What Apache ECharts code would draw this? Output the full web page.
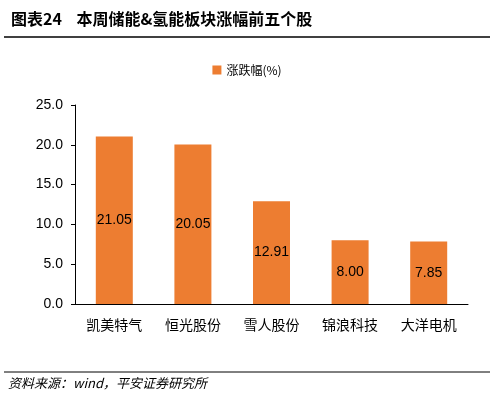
<!DOCTYPE html><html><head><meta charset="utf-8"><script src="https://cdn.jsdelivr.net/npm/echarts@6/dist/echarts.min.js"></script>
<style>body{margin:0;background:#fff}#c{width:494px;height:406px}</style></head><body><div id="c"></div><script>
const categories=['凯美特气','恒光股份','雪人股份','锦浪科技','大洋电机'];
const values=[21.05,20.05,12.91,8.00,7.85];
const yTicks=[0,5,10,15,20,25];
const font='"Noto Sans CJK SC", sans-serif';
const ch=echarts.init(document.getElementById('c'));
ch.setOption({
animation:false,
title:{text:'图表24    本周储能&氢能板块涨幅前五个股',left:6,top:6,textStyle:{fontSize:16,fontWeight:'bold',color:'#000',fontFamily:font}},
legend:{top:59,left:'center',itemWidth:9,itemHeight:9,icon:'rect',textStyle:{fontSize:12,color:'#000',fontFamily:font},data:['涨跌幅(%)']},
grid:{left:75,right:26,top:105,bottom:102},
graphic:[
{type:'line',shape:{x1:4,y1:37,x2:490,y2:37},style:{stroke:'#000',lineWidth:1.5}},
{type:'line',shape:{x1:4,y1:372,x2:490,y2:372},style:{stroke:'#000',lineWidth:1}},
{type:'text',left:8,top:377,style:{text:'资料来源：wind，平安证券研究所',fontSize:13,fontStyle:'italic',fill:'#000',fontFamily:font}}
],
xAxis:{type:'category',data:categories,axisTick:{show:false},axisLine:{lineStyle:{color:'#000'}},axisLabel:{fontSize:14,color:'#000',margin:14,fontFamily:font}},
yAxis:{type:'value',min:0,max:25,interval:5,splitLine:{show:false},axisLine:{show:true,lineStyle:{color:'#000'}},axisTick:{show:true,inside:false,length:4,lineStyle:{color:'#000'}},
axisLabel:{fontSize:14,color:'#000',margin:12,fontFamily:'Liberation Sans, Arial',formatter:v=>yTicks.includes(v)?v.toFixed(1):''}},
series:[{name:'涨跌幅(%)',type:'bar',data:values,barWidth:37,itemStyle:{color:'#ED7D31'},
label:{show:true,position:'inside',fontSize:14,color:'#000',fontFamily:'Liberation Sans, Arial',formatter:p=>p.value.toFixed(2)}}]
});
</script></body></html>
